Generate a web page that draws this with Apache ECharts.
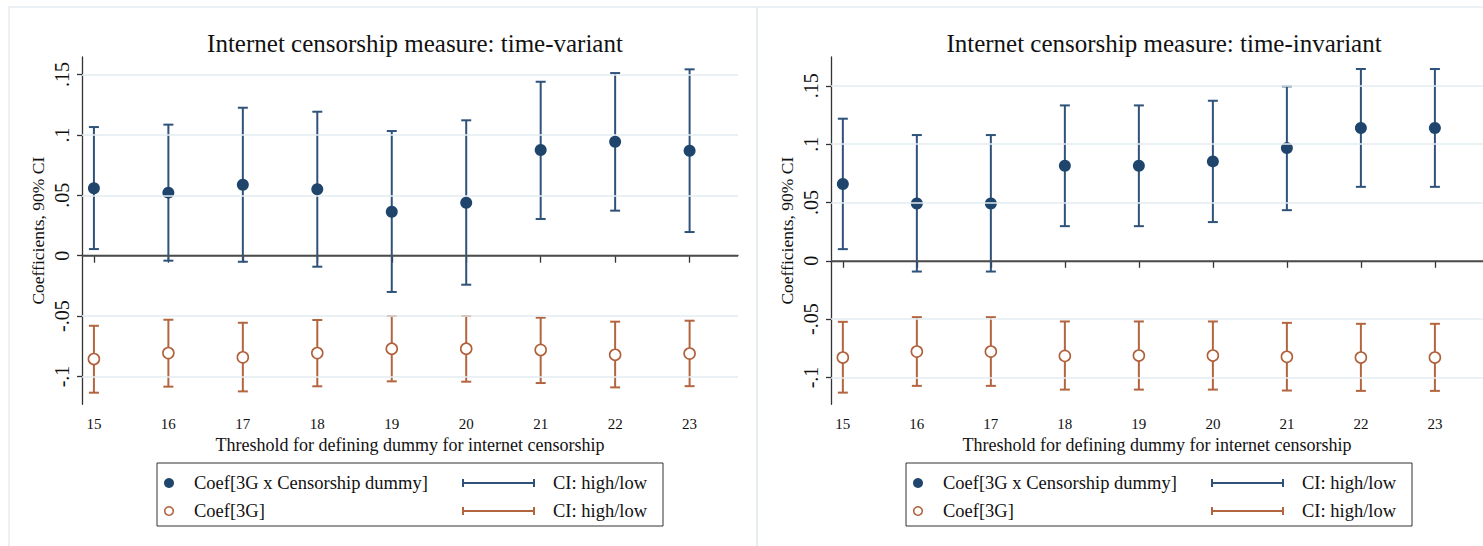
<!DOCTYPE html>
<html><head><meta charset="utf-8">
<script src="https://cdn.jsdelivr.net/npm/echarts@6/dist/echarts.min.js"></script>
<style>html,body{margin:0;padding:0;background:#fff}#c{width:1483px;height:546px}</style>
</head><body><div id="c"></div>
<script>
const thresholds = [15,16,17,18,19,20,21,22,23];
// Panel 1: time-variant censorship measure
const tvInterCoef = [0.0558,0.0522,0.0588,0.0550,0.0364,0.0439,0.0875,0.0944,0.0869];
const tvInterHigh = [0.1065,0.1085,0.1225,0.1192,0.1032,0.1121,0.1440,0.1512,0.1543];
const tvInterLow  = [0.0055,-0.0041,-0.0050,-0.0091,-0.0300,-0.0240,0.0304,0.0373,0.0196];
const tv3gCoef = [-0.0855,-0.0806,-0.0841,-0.0806,-0.0770,-0.0770,-0.0780,-0.0820,-0.0810];
const tv3gHigh = [-0.0580,-0.0530,-0.0555,-0.0532,-0.0499,-0.0499,-0.0513,-0.0546,-0.0538];
const tv3gLow  = [-0.1134,-0.1084,-0.1123,-0.1081,-0.1040,-0.1043,-0.1054,-0.1090,-0.1080];
// Panel 2: time-invariant censorship measure
const tiInterCoef = [0.0658,0.0491,0.0491,0.0815,0.0815,0.0852,0.0966,0.1138,0.1138];
const tiInterHigh = [0.1218,0.1078,0.1078,0.1332,0.1332,0.1372,0.1495,0.1644,0.1644];
const tiInterLow  = [0.0100,-0.0092,-0.0092,0.0297,0.0297,0.0332,0.0434,0.0634,0.0634];
const ti3gCoef = [-0.0829,-0.0778,-0.0778,-0.0815,-0.0812,-0.0812,-0.0823,-0.0829,-0.0829];
const ti3gHigh = [-0.0523,-0.0483,-0.0483,-0.0520,-0.0520,-0.0520,-0.0532,-0.0540,-0.0540];
const ti3gLow  = [-0.1130,-0.1072,-0.1072,-0.1104,-0.1104,-0.1104,-0.1112,-0.1115,-0.1115];
const yTickValues = [-0.1,-0.05,0,0.05,0.1,0.15];
const yTickLabels = ['-.1','-.05','0','.05','.1','.15'];
const gridValues = [-0.1,-0.05,0.05,0.1,0.15];
const panelTitles = ['Internet censorship measure: time-variant','Internet censorship measure: time-invariant'];
const xTitle = 'Threshold for defining dummy for internet censorship';
const yTitle = 'Coefficients, 90% CI';
const legendLabels = ['Coef[3G x Censorship dummy]','Coef[3G]','CI: high/low'];

const NAVY = '#1f456d', NAVYL = '#2e527a', ORANGE = '#b0603a', ORANGEL = '#b3653f';
const FONT = '"Liberation Serif", "DejaVu Serif", serif';
const chart = echarts.init(document.getElementById('c'), null, {renderer:'svg'});

function xAx(gi){
  return {type:'value', gridIndex:gi, min:14.84, max:23.65,
    name:xTitle, nameLocation:'middle', nameGap:30,
    nameTextStyle:{fontFamily:FONT, fontSize:18, color:'#111'},
    axisLine:{lineStyle:{color:'#333', width:1.3}},
    axisTick:{show:true, length:7, customValues:thresholds, lineStyle:{color:'#333', width:1.3}},
    axisLabel:{customValues:thresholds, fontFamily:FONT, fontSize:15, color:'#111', margin:12},
    splitLine:{show:false}};
}
function yAx(gi, mx){
  return {type:'value', gridIndex:gi, min:-0.123, max:mx,
    name:yTitle, nameLocation:'middle', nameRotate:90, nameGap:35,
    nameTextStyle:{fontFamily:FONT, fontSize:17.5, color:'#111'},
    axisLine:{show:true, lineStyle:{color:'#333', width:1.3}},
    axisTick:{show:true, length:5, customValues:yTickValues, lineStyle:{color:'#333', width:1.3}},
    axisLabel:{customValues:yTickValues, rotate:90, fontFamily:FONT, fontSize:20, color:'#111', margin:10,
      formatter:v=>{const i=yTickValues.findIndex(t=>Math.abs(t-v)<1e-9); return i>=0?yTickLabels[i]:'';}},
    splitLine:{show:false}};
}
function errSeries(gi, lo, hi, color){
  return {type:'custom', xAxisIndex:gi, yAxisIndex:gi, z:3, silent:true,
    data: thresholds.map((t,i)=>[t, lo[i], hi[i]]),
    encode:{x:0, y:[1,2]},
    renderItem(params, api){
      const xv = api.value(0);
      const a = api.coord([xv, api.value(1)]), b = api.coord([xv, api.value(2)]);
      const hw = 5, st = {stroke:color, lineWidth:2};
      return {type:'group', children:[
        {type:'line', shape:{x1:a[0],y1:a[1],x2:b[0],y2:b[1]}, style:st},
        {type:'line', shape:{x1:a[0]-hw,y1:a[1],x2:a[0]+hw,y2:a[1]}, style:st},
        {type:'line', shape:{x1:b[0]-hw,y1:b[1],x2:b[0]+hw,y2:b[1]}, style:st}]};
    }};
}
function refSeries(gi){
  return {type:'scatter', xAxisIndex:gi, yAxisIndex:gi, z:1, silent:true, data:[],
    markLine:{silent:true, symbol:'none', label:{show:false},
      data:[...gridValues.map(v=>({yAxis:v, lineStyle:{color:'#e3ecf0', width:1.6, type:'solid'}})),
            {yAxis:0, lineStyle:{color:'#555', width:1.5, type:'solid'}}]}};
}
function dotSeries(gi, vals, filled){
  return {type:'scatter', xAxisIndex:gi, yAxisIndex:gi, z:4, silent:true,
    data: thresholds.map((t,i)=>[t, vals[i]]),
    symbol:'circle', symbolSize: filled?12:11,
    itemStyle: filled?{color:NAVY, opacity:1}:{color:'#fff', borderColor:ORANGE, borderWidth:1.6, opacity:1}};
}

function legendGraphics(x0){
  const g = [];
  g.push({type:'rect', shape:{x:x0, y:463, width:506, height:63}, style:{fill:'#fff', stroke:'#333', lineWidth:1}});
  const rows = [[483, NAVY, NAVYL, true, legendLabels[0]], [511, ORANGE, ORANGEL, false, legendLabels[1]]];
  rows.forEach(([y, c, cl, filled, lab])=>{
    g.push({type:'circle', shape:{cx:x0+12, cy:y, r: filled?5:4.3},
      style: filled?{fill:c}:{fill:'#fff', stroke:c, lineWidth:1.5}});
    g.push({type:'text', x:x0+37, y:y, style:{text:lab, font:'18.5px '+FONT, fill:'#111', textVerticalAlign:'middle'}});
    g.push({type:'line', shape:{x1:x0+306, y1:y, x2:x0+377, y2:y}, style:{stroke:cl, lineWidth:2}});
    g.push({type:'line', shape:{x1:x0+306, y1:y-4, x2:x0+306, y2:y+4}, style:{stroke:cl, lineWidth:2}});
    g.push({type:'line', shape:{x1:x0+377, y1:y-4, x2:x0+377, y2:y+4}, style:{stroke:cl, lineWidth:2}});
    g.push({type:'text', x:x0+396, y:y, style:{text:legendLabels[2], font:'18.5px '+FONT, fill:'#111', textVerticalAlign:'middle'}});
  });
  return g;
}

const option = {
  backgroundColor:'#fff',
  animation:false,
  title:[
    {text:panelTitles[0], left:410, top:26, textAlign:'center', textStyle:{fontFamily:FONT, fontSize:25, fontWeight:'normal', color:'#111'}},
    {text:panelTitles[1], left:1159, top:26, textAlign:'center', textStyle:{fontFamily:FONT, fontSize:25, fontWeight:'normal', color:'#111'}}
  ],
  grid:[
    {left:82, top:57, width:656, height:347.3},
    {left:831, top:57, width:654.6, height:347.3}
  ],
  xAxis:[xAx(0), xAx(1)],
  yAxis:[yAx(0, 0.1645), yAx(1, 0.1747)],
  series:[
    refSeries(0), refSeries(1),
    errSeries(0, tvInterLow, tvInterHigh, NAVYL), errSeries(0, tv3gLow, tv3gHigh, ORANGEL),
    errSeries(1, tiInterLow, tiInterHigh, NAVYL), errSeries(1, ti3gLow, ti3gHigh, ORANGEL),
    dotSeries(0, tvInterCoef, true), dotSeries(0, tv3gCoef, false),
    dotSeries(1, tiInterCoef, true), dotSeries(1, ti3gCoef, false)
  ],
  graphic:[
    {type:'rect', z:-10, shape:{x:9, y:7, width:748, height:560}, style:{fill:'none', stroke:'#e4ebef', lineWidth:1.5}},
    {type:'rect', z:-10, shape:{x:757, y:7, width:760, height:560}, style:{fill:'none', stroke:'#e4ebef', lineWidth:1.5}},
    ...legendGraphics(157), ...legendGraphics(906)
  ]
};
chart.setOption(option);
</script></body></html>
